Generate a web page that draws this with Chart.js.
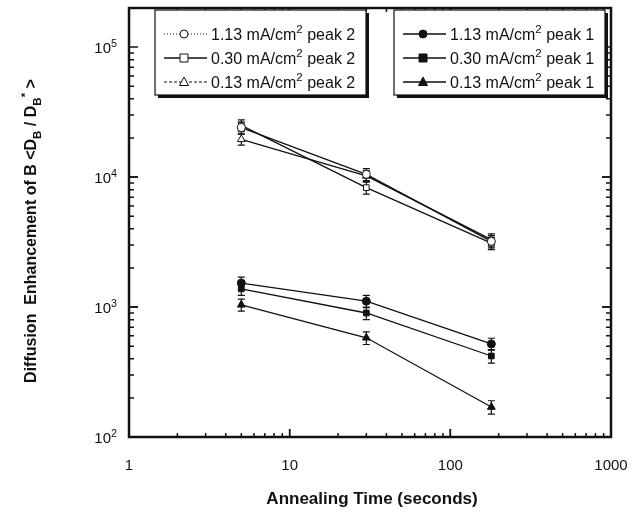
<!DOCTYPE html>
<html>
<head>
<meta charset="utf-8">
<style>
  html, body { margin: 0; padding: 0; background: #fff; }
  #wrap { width: 637px; height: 512px; }
</style>
<script src="https://cdn.jsdelivr.net/npm/chart.js@4/dist/chart.umd.min.js"></script>
</head>
<body>
<div id="wrap"><canvas id="myChart"></canvas></div>
<script>
// annealing times (s)
const times = [5, 30, 180];

// peak 2 (open symbols)
const p2_113 = [24000, 10500, 3200];
const p2_030 = [25000, 8300, 3100];
const p2_013 = [19500, 10200, 3300];
// peak 1 (filled symbols)
const p1_113 = [1530, 1110, 520];
const p1_030 = [1380, 900, 420];
const p1_013 = [1040, 580, 170];

// error bar half-heights
const e2_113 = [2500, 1100, 350];
const e2_030 = [2600, 900, 330];
const e2_013 = [1900, 1000, 350];
const e1_113 = [170, 120, 55];
const e1_030 = [150, 100, 50];
const e1_013 = [110, 65, 20];

const xTicks = [1, 10, 100, 1000];
const yTicks = [100, 1000, 10000, 100000];

const FONT = '"Liberation Sans", Arial, Helvetica, sans-serif';

function pts(ys) {
  return times.map((t, i) => ({x: t, y: ys[i]}));
}

function series(label, ys, errs, style, filled) {
  return {
    label: label,
    data: pts(ys),
    errors: errs,
    borderColor: '#111',
    borderWidth: 1.3,
    pointStyle: style,
    pointRadius: style === 'triangle' ? 4.5 : 4,
    pointBorderWidth: 1,
    pointBorderColor: '#111',
    pointBackgroundColor: filled ? '#111' : '#fff',
    showLine: true,
    tension: 0
  };
}

const datasets = [
  series('1.13 peak 2', p2_113, e2_113, 'circle', false),
  series('0.30 peak 2', p2_030, e2_030, 'rect', false),
  series('0.13 peak 2', p2_013, e2_013, 'triangle', false),
  series('1.13 peak 1', p1_113, e1_113, 'circle', true),
  series('0.30 peak 1', p1_030, e1_030, 'rect', true),
  series('0.13 peak 1', p1_013, e1_013, 'triangle', true)
];

function drawMarker(ctx, style, x, y, filled) {
  ctx.save();
  ctx.lineWidth = 1;
  ctx.strokeStyle = '#111';
  ctx.fillStyle = filled ? '#111' : '#fff';
  ctx.beginPath();
  if (style === 'circle') {
    ctx.arc(x, y, 4, 0, Math.PI * 2);
  } else if (style === 'rect') {
    ctx.rect(x - 4, y - 4, 8, 8);
  } else {
    ctx.moveTo(x, y - 5);
    ctx.lineTo(x + 4.5, y + 3.5);
    ctx.lineTo(x - 4.5, y + 3.5);
    ctx.closePath();
  }
  ctx.fill();
  ctx.stroke();
  ctx.restore();
}

// text with super/subscript pieces: parts = [[text, 'sup'|'sub'|null], ...]
function drawRich(ctx, parts, x, y, size, bold) {
  let cx = x;
  parts.forEach(p => {
    const sz = p[1] ? size * 0.72 : size;
    ctx.font = (bold ? 'bold ' : '') + sz + 'px ' + FONT;
    const dy = p[1] === 'sup' ? -size * 0.42 : (p[1] === 'sub' ? size * 0.3 : 0);
    ctx.fillText(p[0], cx, y + dy);
    cx += ctx.measureText(p[0]).width;
  });
  return cx - x;
}
function richWidth(ctx, parts, size, bold) {
  let w = 0;
  parts.forEach(p => {
    const sz = p[1] ? size * 0.72 : size;
    ctx.font = (bold ? 'bold ' : '') + sz + 'px ' + FONT;
    w += ctx.measureText(p[0]).width;
  });
  return w;
}

const errorBars = {
  id: 'errorBars',
  beforeDatasetsDraw(chart) {
    const ctx = chart.ctx;
    const xs = chart.scales.x, ys = chart.scales.y;
    ctx.save();
    ctx.strokeStyle = '#111';
    ctx.lineWidth = 1.2;
    chart.data.datasets.forEach(ds => {
      ds.data.forEach((p, i) => {
        const px = xs.getPixelForValue(p.x);
        const top = ys.getPixelForValue(p.y + ds.errors[i]);
        const bot = ys.getPixelForValue(p.y - ds.errors[i]);
        ctx.beginPath();
        ctx.moveTo(px, top); ctx.lineTo(px, bot);
        ctx.moveTo(px - 3.5, top); ctx.lineTo(px + 3.5, top);
        ctx.moveTo(px - 3.5, bot); ctx.lineTo(px + 3.5, bot);
        ctx.stroke();
      });
    });
    ctx.restore();
  }
};

const frame = {
  id: 'frame',
  afterDraw(chart) {
    const ctx = chart.ctx;
    const a = chart.chartArea;
    const xs = chart.scales.x, ys = chart.scales.y;
    ctx.save();
    ctx.strokeStyle = '#111';
    ctx.fillStyle = '#111';

    // log ticks, inward on all four sides
    ctx.lineWidth = 1.5;
    for (let d = 1; d < 1000; d *= 10) {
      for (let m = 1; m <= 10; m++) {
        const v = d * m;
        const px = xs.getPixelForValue(v);
        const len = (m === 1 || m === 10) ? 8 : 4;
        ctx.beginPath();
        ctx.moveTo(px, a.bottom); ctx.lineTo(px, a.bottom - len);
        ctx.moveTo(px, a.top); ctx.lineTo(px, a.top + len);
        ctx.stroke();
      }
    }
    for (let d = 100; d < 1e5; d *= 10) {
      for (let m = 1; m <= 10; m++) {
        const v = d * m;
        const py = ys.getPixelForValue(v);
        const len = (m === 1 || m === 10) ? 9 : 5;
        ctx.beginPath();
        ctx.moveTo(a.left, py); ctx.lineTo(a.left + len, py);
        ctx.moveTo(a.right, py); ctx.lineTo(a.right - len, py);
        ctx.stroke();
      }
    }
    ctx.lineWidth = 2.5;
    ctx.strokeRect(a.left, a.top, a.right - a.left, a.bottom - a.top);

    // x tick labels
    ctx.textBaseline = 'alphabetic';
    ctx.textAlign = 'center';
    ctx.font = '15px ' + FONT;
    xTicks.forEach(v => {
      ctx.fillText(String(v), xs.getPixelForValue(v), 470);
    });

    // y tick labels 10^n
    ctx.textAlign = 'left';
    yTicks.forEach(v => {
      const n = Math.round(Math.log10(v));
      const parts = [['10', null], [String(n), 'sup']];
      const w = richWidth(ctx, parts, 15, false);
      drawRich(ctx, parts, 117 - w, ys.getPixelForValue(v) + 6, 15, false);
    });

    // axis titles
    ctx.textAlign = 'left';
    const xt = [['Annealing Time (seconds)', null]];
    const xw = richWidth(ctx, xt, 17, true);
    drawRich(ctx, xt, 372 - xw / 2, 504, 17, true);

    const yt = [['Diffusion  Enhancement of B <D', null], ['B', 'sub'], [' / D', null],
                ['B', 'sub'], ['*', 'sup'], [' >', null]];
    const yw = richWidth(ctx, yt, 16, true);
    ctx.save();
    ctx.translate(36, 231);
    ctx.rotate(-Math.PI / 2);
    drawRich(ctx, yt, -yw / 2, 0, 16, true);
    ctx.restore();

    // legends
    drawLegend(ctx, 155, 10, 211, 85, [
      ['1.13', 'circle', false, 2, [1, 2]],
      ['0.30', 'rect', false, 2, []],
      ['0.13', 'triangle', false, 2, [3, 2]]
    ]);
    drawLegend(ctx, 394, 10, 211, 85, [
      ['1.13', 'circle', true, 1, []],
      ['0.30', 'rect', true, 1, []],
      ['0.13', 'triangle', true, 1, []]
    ]);
    ctx.restore();
  }
};

function drawLegend(ctx, x, y, w, h, rows) {
  ctx.save();
  ctx.fillStyle = '#111';
  ctx.fillRect(x + 3, y + 3, w, h);
  ctx.fillStyle = '#fff';
  ctx.fillRect(x, y, w, h);
  ctx.strokeStyle = '#111';
  ctx.lineWidth = 1.2;
  ctx.strokeRect(x, y, w, h);
  rows.forEach((r, i) => {
    const cy = y + 24 + i * 24;
    ctx.setLineDash(r[4]);
    ctx.lineWidth = r[4].length ? 1 : 1.3;
    ctx.beginPath();
    ctx.moveTo(x + 9, cy); ctx.lineTo(x + 52, cy);
    ctx.stroke();
    ctx.setLineDash([]);
    drawMarker(ctx, r[1], x + 29, cy, r[2]);
    ctx.fillStyle = '#111';
    ctx.textAlign = 'left';
    drawRich(ctx, [[r[0] + ' mA/cm', null], ['2', 'sup'], [' peak ' + r[3], null]],
             x + 56, cy + 6, 16, false);
  });
  ctx.restore();
}

const chart = new Chart(document.getElementById('myChart').getContext('2d'), {
  type: 'line',
  data: { datasets: datasets },
  options: {
    responsive: true,
    maintainAspectRatio: false,
    animation: false,
    layout: { padding: { left: 129, top: 8, right: 26, bottom: 75 } },
    plugins: { legend: { display: false }, tooltip: { enabled: false } },
    scales: {
      x: { type: 'logarithmic', min: 1, max: 1000, display: false },
      y: { type: 'logarithmic', min: 100, max: 200000, display: false }
    }
  },
  plugins: [errorBars, frame]
});
</script>
</body>
</html>
